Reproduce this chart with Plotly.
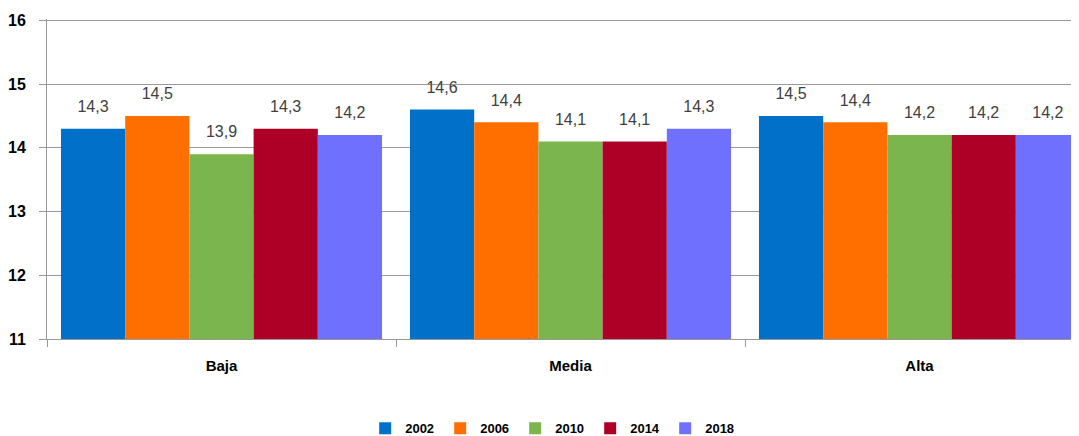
import plotly.graph_objects as go

categories = ["Baja", "Media", "Alta"]
years = ["2002", "2006", "2010", "2014", "2018"]
values = {
    "2002": [14.3, 14.6, 14.5],
    "2006": [14.5, 14.4, 14.4],
    "2010": [13.9, 14.1, 14.2],
    "2014": [14.3, 14.1, 14.2],
    "2018": [14.2, 14.3, 14.2],
}
colors = ["#0070C8", "#FF6F00", "#7AB54E", "#AE0027", "#7070FF"]
y_ticks = [11, 12, 13, 14, 15, 16]

FONT = "Liberation Sans Narrow, Arial Narrow, Liberation Sans, Arial, sans-serif"

fig = go.Figure()
for yr, col in zip(years, colors):
    fig.add_trace(go.Bar(
        name=yr, x=categories, y=values[yr],
        marker=dict(color=col, line=dict(width=0)),
        texttemplate="<span style='font-size:16px'>%{y:.1f}</span><br> ",
        textposition="outside",
        textfont=dict(family=FONT, size=9, color="#404040"),
        cliponaxis=False,
    ))

# page body has an 8px default margin, so the figure is sized to fit the window
fig.update_layout(
    width=1071, height=428,
    margin=dict(l=39, r=0, t=11, b=97, autoexpand=False),
    paper_bgcolor="white", plot_bgcolor="white",
    barmode="group", bargap=0.08, bargroupgap=0,
    separators=",.",
    showlegend=True,
    legend=dict(orientation="h", x=0.49, xanchor="center", y=-0.279, yanchor="middle",
                font=dict(family=FONT, size=13, color="#000000", weight="bold"),
                entrywidth=30, entrywidthmode="pixels", traceorder="normal"),
    font=dict(family=FONT),
)
fig.update_xaxes(
    range=[-0.5, 2.457], tickson="boundaries", ticks="outside", ticklen=7,
    tickcolor="#999999", showline=True, linecolor="#999999", linewidth=1,
    tickfont=dict(family=FONT, size=15, color="#000000", weight="bold"),
    ticklabelstandoff=13, showgrid=False, automargin=False,
)
fig.update_yaxes(
    range=[11, 16.02], tickvals=y_ticks, ticks="outside", ticklen=7,
    tickcolor="#999999", showline=True, linecolor="#999999", linewidth=1,
    gridcolor="#999999", gridwidth=1,
    tickfont=dict(family=FONT, size=16, color="#000000", weight="bold"),
    ticklabelstandoff=10, automargin=False,
)
fig.write_html("out.html")
